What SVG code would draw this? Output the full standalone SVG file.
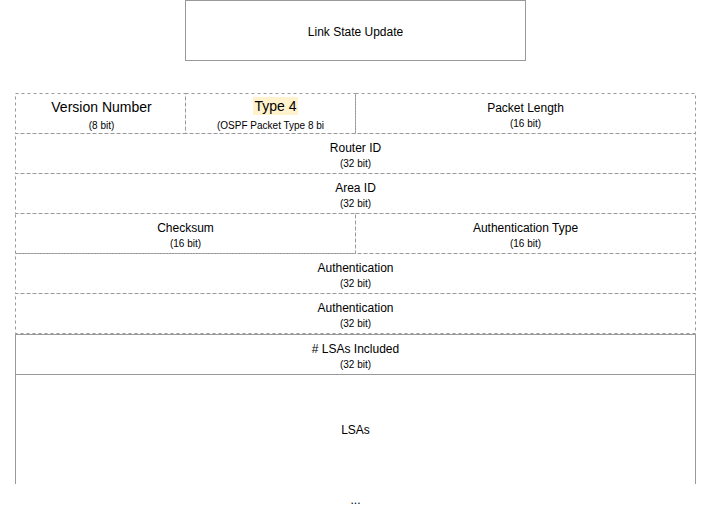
<svg xmlns="http://www.w3.org/2000/svg" width="711" height="514" viewBox="0 0 711 514">
<style>
text{font-family:"Liberation Sans",Arial,sans-serif;fill:#000;text-anchor:middle}
.l{font-size:12px}
.b{font-size:14px}
.s{font-size:10px}
.d{fill:none;stroke:#999;stroke-dasharray:3 3}
.f{fill:none;stroke:#999}
</style>
<defs>
<clipPath id="c2"><rect x="186" y="94" width="138" height="39"/></clipPath>
</defs>
<rect width="711" height="514" fill="#fff"/>
<g id="title"><rect class="f" x="185.5" y="0.5" width="340" height="60"/><text class="l" x="355.5" y="36">Link State Update</text></g>
<g id="version"><rect class="d" x="15.5" y="93.5" width="170" height="40"/><text class="b" x="101.5" y="112">Version Number</text><text class="s" x="101.5" y="129">(8 bit)</text></g>
<g id="type"><rect class="d" x="185.5" y="93.5" width="170" height="40"/><rect x="253" y="97" width="45" height="18" fill="#fff2cc"/><text class="b" x="275.5" y="111">Type 4</text><text class="s" x="217" y="129" style="text-anchor:start" clip-path="url(#c2)">(OSPF Packet Type 8 bit)</text></g>
<g id="length"><rect class="d" x="355.5" y="93.5" width="340" height="40"/><text class="l" x="525.5" y="112">Packet Length</text><text class="s" x="525.5" y="127">(16 bit)</text></g>
<g id="router"><rect class="d" x="15.5" y="133.5" width="680" height="40"/><text class="l" x="355.5" y="152">Router ID</text><text class="s" x="355.5" y="167">(32 bit)</text></g>
<g id="area"><rect class="d" x="15.5" y="173.5" width="680" height="40"/><text class="l" x="355.5" y="192">Area ID</text><text class="s" x="355.5" y="207">(32 bit)</text></g>
<g id="checksum"><rect class="d" x="15.5" y="213.5" width="340" height="40"/><text class="l" x="185.5" y="232">Checksum</text><text class="s" x="185.5" y="247">(16 bit)</text></g>
<g id="authtype"><rect class="d" x="355.5" y="213.5" width="340" height="40"/><text class="l" x="525.5" y="232">Authentication Type</text><text class="s" x="525.5" y="247">(16 bit)</text></g>
<g id="auth1"><rect class="d" x="15.5" y="253.5" width="680" height="40"/><text class="l" x="355.5" y="272">Authentication</text><text class="s" x="355.5" y="287">(32 bit)</text></g>
<g id="auth2"><rect class="d" x="15.5" y="293.5" width="680" height="40"/><text class="l" x="355.5" y="312">Authentication</text><text class="s" x="355.5" y="327">(32 bit)</text></g>
<g id="numlsas"><rect class="f" x="15.5" y="334.5" width="680" height="40"/><text class="l" x="355.5" y="353">&#35; LSAs Included</text><text class="s" x="355.5" y="368">(32 bit)</text></g>
<g id="lsas"><path class="f" d="M15.5 484V374.5H695.5V484"/><text class="l" x="355.5" y="434">LSAs</text></g>
<g id="connectors"></g>
<text class="l" x="355.5" y="504">...</text>
</svg>
